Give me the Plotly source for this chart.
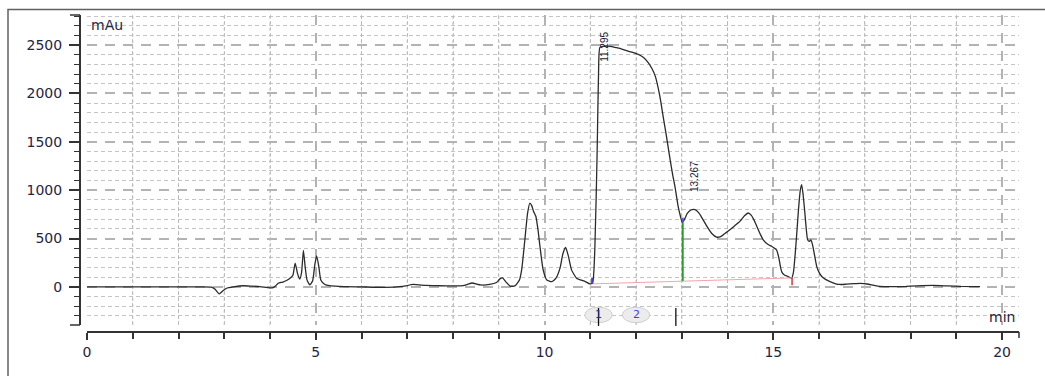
import plotly.graph_objects as go

# ---------------- data ----------------
time_min = [0.0, 0.5, 1.0, 1.5, 2.0, 2.5, 2.72, 2.8, 2.89, 2.96, 3.05, 3.2, 3.42, 3.6, 3.78, 3.95,
            4.05, 4.12, 4.18, 4.28, 4.36, 4.45, 4.5, 4.55, 4.6, 4.65, 4.69, 4.73, 4.77, 4.81,
            4.87, 4.93, 4.98, 5.02, 5.07, 5.11, 5.2, 5.3, 5.5, 6.0, 6.5, 6.9, 7.13, 7.4, 7.7,
            8.0, 8.22, 8.41, 8.6, 8.8, 8.95, 9.03, 9.08, 9.15, 9.25, 9.35, 9.45, 9.5, 9.57,
            9.63, 9.68, 9.72, 9.76, 9.81, 9.86, 9.9, 9.97, 10.05, 10.16, 10.25, 10.34, 10.4,
            10.46, 10.52, 10.59, 10.7, 10.89, 10.99, 11.05, 11.1, 11.15, 11.18, 11.21, 11.3,
            11.4, 11.6, 11.76, 11.9, 12.05, 12.17, 12.27, 12.35, 12.42, 12.52, 12.6, 12.65,
            12.7, 12.75, 12.8, 12.85, 12.92, 12.97, 13.01, 13.06, 13.12, 13.2, 13.29, 13.38,
            13.47, 13.55, 13.65, 13.76, 13.85, 13.95, 14.05, 14.15, 14.27, 14.37, 14.45,
            14.52, 14.58, 14.64, 14.72, 14.78, 14.88, 14.97, 15.07, 15.1, 15.13, 15.16, 15.19,
            15.25, 15.31, 15.4, 15.44, 15.48, 15.52, 15.55, 15.59, 15.62, 15.65, 15.69, 15.72,
            15.75, 15.79, 15.82, 15.85, 15.88, 15.95, 16.0, 16.06, 16.15, 16.24, 16.35, 16.46,
            16.6, 16.75, 16.9, 17.05, 17.2, 17.33, 17.6, 17.9, 18.13, 18.5, 18.8, 19.1, 19.52]
signal_mau = [0, 0, 0, 0, 0, 0, -3, -25, -72, -45, -14, 0, 12, 8, 3, -8,
              -10, 10, 38, 50, 66, 95, 120, 245, 140, 80, 150, 376, 200, 70,
              22, 60, 230, 321, 200, 72, 25, 12, 5, 0, -5, 5, 25, 15, 12,
              10, 12, 40, 20, 25, 45, 85, 93, 55, 8, 10, 70, 176, 487,
              766, 867, 840, 780, 730, 580, 418, 176, 72, 55, 90, 197, 340,
              407, 320, 176, 90, 55, 31, 40, 400, 1400, 2200, 2476, 2488,
              2490, 2470, 2448, 2428, 2404, 2370, 2317, 2255, 2179, 1972, 1740, 1600,
              1450, 1300, 1160, 1039, 832, 730, 665, 700, 760, 795, 798, 760,
              690, 625, 555, 515, 520, 555, 590, 630, 677, 735, 764,
              740, 690, 625, 540, 487, 440, 418, 383, 340, 280, 200, 150,
              120, 110, 90, 150, 349, 600, 798, 1000, 1057, 960, 764, 600,
              487, 470, 487, 450, 383, 210, 150, 107, 75, 55, 35, 25,
              28, 33, 36, 30, 15, 5, 3, 5, 10, 15, 10, 5, 3]

peak_times = [11.295, 13.267]
peak_label_heights = [2480, 1136]
peak_labels = ["11.295", "13.267"]

baseline_times = [11.04, 15.41]
baseline_values = [31, 93]
drop_time = 13.02
drop_values = [62, 665]

event_times = [11.18, 12.0]
event_labels = ["1", "2"]
event_mark_times = [11.18, 12.87]

major_x_ticks = [0, 5, 10, 15, 20]
major_x_labels = ["0", "5", "10", "15", "20"]
minor_x_ticks = [t for t in range(1, 21) if t % 5 != 0]

x_range = [0, 20.37]
y_range = [-394, 2811]

# ---------------- layout helpers ----------------
W, H = 1045, 376
L, R, T, B = 80, 26, 15, 44
PW, PH = W - L - R, H - T - B


def paper_x(px):
    return (px - L) / PW


def paper_y(py):
    return (H - B - py) / PH


X_DOMAIN = [paper_x(87), 1.0]

AXC = "#333333"
TXT = "#1f2544"

fig = go.Figure()

# minor vertical grid drawn as a trace (one broken polyline, gaps via None)
grid_x, grid_y = [], []
for t in minor_x_ticks:
    grid_x += [t, t, None]
    grid_y += [y_range[0], y_range[1], None]
fig.add_trace(go.Scatter(x=grid_x, y=grid_y, mode="lines", connectgaps=False,
                         line=dict(color="#b8b8b8", width=1, dash="dot"),
                         hoverinfo="skip", showlegend=False))

fig.add_trace(go.Scatter(x=time_min, y=signal_mau, mode="lines",
                         line=dict(color="#2b2b2b", width=1.3, shape="spline", smoothing=0.5),
                         hoverinfo="skip", showlegend=False))

# integration baseline, drop line
fig.add_trace(go.Scatter(x=baseline_times, y=baseline_values, mode="lines",
                         line=dict(color="#f5a3ad", width=1), showlegend=False, hoverinfo="skip"))
fig.add_trace(go.Scatter(x=[drop_time, drop_time], y=drop_values, mode="lines",
                         line=dict(color="#2e9a2e", width=2), showlegend=False, hoverinfo="skip"))
# start / end markers of integration
fig.add_trace(go.Scatter(x=[baseline_times[0], baseline_times[0]], y=[baseline_values[0], baseline_values[0] + 60],
                         mode="lines", line=dict(color="#3b3bdd", width=2), showlegend=False, hoverinfo="skip"))
fig.add_trace(go.Scatter(x=[drop_time, drop_time], y=[drop_values[1], drop_values[1] + 50],
                         mode="lines", line=dict(color="#5555ee", width=2), showlegend=False, hoverinfo="skip"))
fig.add_trace(go.Scatter(x=[baseline_times[1], baseline_times[1]], y=[baseline_values[1] - 75, baseline_values[1]],
                         mode="lines", line=dict(color="#e03030", width=1.5), showlegend=False, hoverinfo="skip"))

shapes = []
# outer frame
shapes.append(dict(type="rect", xref="paper", yref="paper",
                   x0=paper_x(8), x1=paper_x(1070), y0=paper_y(420), y1=paper_y(9.5),
                   line=dict(color="#606060", width=1.5), fillcolor="rgba(0,0,0,0)", layer="below"))
# axis end hooks
shapes.append(dict(type="line", xref="paper", yref="paper", x0=paper_x(70), x1=0, y0=1, y1=1,
                   line=dict(color=AXC, width=1.5)))
shapes.append(dict(type="line", xref="paper", yref="paper", x0=paper_x(70), x1=0,
                   y0=paper_y(325), y1=paper_y(325), line=dict(color=AXC, width=1.5)))
shapes.append(dict(type="line", xref="paper", yref="paper", x0=1, x1=1, y0=0, y1=paper_y(338),
                   line=dict(color=AXC, width=1.5)))
# event ovals
for t in event_times:
    shapes.append(dict(type="circle", xref="x", yref="y", x0=t - 0.3, x1=t + 0.3, y0=-290 - 80, y1=-290 + 80,
                       line=dict(color="#cfcfcf", width=1), fillcolor="#ececec"))
# event tick marks
for t, top in zip(event_mark_times, [308, 308]):
    shapes.append(dict(type="line", xref="x", yref="paper", x0=t, x1=t, y0=paper_y(top), y1=paper_y(326),
                       line=dict(color="#111111", width=1.3)))

annotations = []
for t, h, lab in zip(peak_times, peak_label_heights, peak_labels):
    annotations.append(dict(x=t, y=h, xref="x", yref="y", text=lab, showarrow=False, textangle=-90,
                            font=dict(family="Liberation Sans", size=10, color="#222233")))
for t, lab, c in zip(event_times, event_labels, ["#2a2aa0", "#4040ee"]):
    annotations.append(dict(x=t, y=-290, xref="x", yref="y", text=lab, showarrow=False,
                            font=dict(family="DejaVu Sans", size=11, color=c)))
annotations.append(dict(x=paper_x(89), y=paper_y(25), xref="paper", yref="paper", text="mAu",
                        showarrow=False, xanchor="left", yanchor="middle",
                        font=dict(family="DejaVu Sans", size=14, color=TXT)))
annotations.append(dict(x=paper_x(1017), y=paper_y(317), xref="paper", yref="paper", text="min",
                        showarrow=False, xanchor="right", yanchor="middle",
                        font=dict(family="DejaVu Sans", size=14, color=TXT)))

fig.update_layout(
    width=W, height=H,
    margin=dict(l=L, r=R, t=T, b=B, pad=0),
    paper_bgcolor="white", plot_bgcolor="white",
    showlegend=False,
    shapes=shapes, annotations=annotations,
    xaxis=dict(domain=X_DOMAIN, range=x_range, anchor="free", position=0,
               showline=True, linecolor=AXC, linewidth=2, mirror=False,
               tickmode="array", tickvals=major_x_ticks, ticktext=major_x_labels,
               ticks="outside", ticklen=7, tickwidth=1.5, tickcolor=AXC, zeroline=False,
               showgrid=True, gridcolor="#b3b3b3", gridwidth=2, griddash="10px,8px",
               tickfont=dict(family="DejaVu Sans", size=14, color=TXT),
               minor=dict(tickmode="array", tickvals=minor_x_ticks, ticks="outside", ticklen=6,
                          tickwidth=1.5, tickcolor=AXC, showgrid=True, gridcolor="#c4c4c4",
                          gridwidth=1, griddash="dot")),
    yaxis=dict(domain=[paper_y(325), 1], range=y_range, anchor="free", position=0,
               showline=True, linecolor=AXC, linewidth=2,
               ticks="outside", ticklen=10, tickwidth=1.5, tickcolor=AXC,
               tick0=0, dtick=500, zeroline=False, ticklabelstandoff=4,
               showgrid=True, gridcolor="#b3b3b3", gridwidth=2, griddash="10px,8px",
               tickfont=dict(family="DejaVu Sans", size=14, color=TXT),
               minor=dict(tick0=0, dtick=100, ticks="outside", ticklen=5, tickwidth=1.3, tickcolor=AXC,
                          showgrid=True, gridcolor="#c4c4c4", gridwidth=1, griddash="4px,3px")),
)

fig.write_html("out.html")
